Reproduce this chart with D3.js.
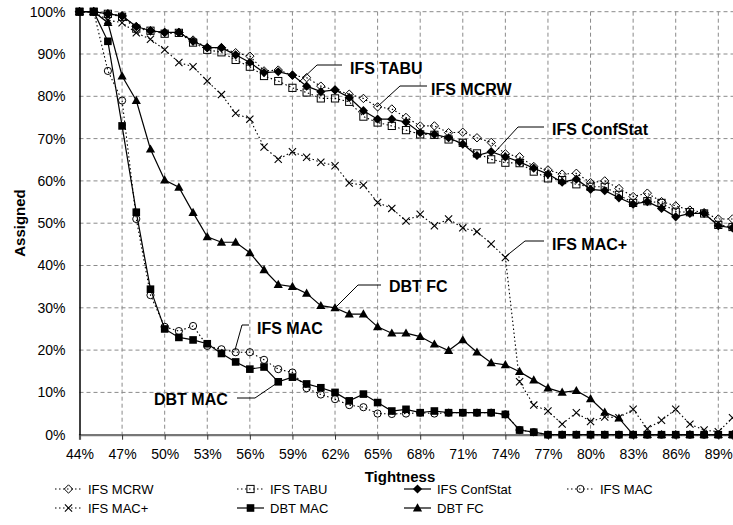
<!DOCTYPE html>
<html>
<head>
<meta charset="utf-8">
<script src="https://cdn.jsdelivr.net/npm/d3@7"></script>
<style>
  html, body { margin: 0; padding: 0; background: #fff; }
  svg { display: block; font-family: "Liberation Sans", Arial, sans-serif; }
</style>
</head>
<body>
<svg id="chart" width="733" height="525"></svg>
<script>
// Tightness levels (%), one point per percent
const tightness = d3.range(44, 91);

const xTickLabels = [44, 47, 50, 53, 56, 59, 62, 65, 68, 71, 74, 77, 80, 83, 86, 89];
const yTickLabels = [0, 10, 20, 30, 40, 50, 60, 70, 80, 90, 100];

// Percentage of variables assigned, per algorithm
const ifsMcrw = [100, 100, 99.5, 99, 96.5, 95.5, 95.1, 95.1, 93.3, 91.5, 91.5, 90.3, 89.5, 86, 86.2, 85,
  84.4, 82.4, 81.5, 80.5, 79.5, 77.5, 77, 75, 73, 73, 71.4, 71.5, 70.2, 69.1, 66.4, 65.7, 63.4, 62.6,
  61.6, 61.8, 59.6, 60, 58.2, 56.3, 57.1, 55.1, 54.1, 53.1, 52.5, 51, 51];
const ifsTabu = [100, 100, 99.5, 98.8, 96, 95.5, 94.8, 95, 92.7, 91, 90.4, 88.6, 87, 84.8, 83.6, 82,
  80.9, 79.5, 79.5, 78.7, 75.2, 73.8, 73, 72, 71, 70.9, 69.8, 69, 66.5, 65.1, 64.3, 64.2, 62.2, 60.6,
  60.2, 59.2, 58.6, 58.6, 56.7, 54.8, 55.2, 54.8, 52.7, 52.6, 52.3, 49.6, 49.1];
const ifsConfStat = [100, 100, 99.5, 99, 96.5, 95.5, 95.1, 95.1, 93, 91.5, 91.5, 89.8, 88, 85.6, 85.8, 85,
  82.4, 81.1, 81.5, 79.7, 76.6, 74.6, 74.6, 73.9, 71.4, 71, 70.2, 68.7, 66, 66.9, 65.7, 64.5, 63, 61.6,
  59.7, 60.4, 58, 57.7, 56, 54.5, 55.1, 53.5, 51.5, 52.3, 52.3, 49.4, 48.9];
const ifsMac = [100, 100, 86, 79, 51, 33, 25.5, 24.5, 25.7, 21, 20.2, 19.5, 19.5, 17.7, 15.5, 14.7,
  11, 9.5, 8.4, 7, 6.5, 5, 4.9, 5, 5.2, 5, 5.2, 5.2, 5.2, 5.2, 4.8, 1.1, 0.6, 0, 0,
  0, 0, 0, 0, 0, 0, 0, 0, 0, 0, 0, 0];
const ifsMacPlus = [100, 100, 98, 97.4, 95, 93.5, 91, 88, 87, 83.6, 80.4, 76, 74.6, 68, 65.1, 66.9,
  65.6, 64.4, 63.6, 59.5, 59, 54.9, 53.5, 50.5, 52.1, 49.4, 51, 48.9, 48, 45.1, 41.9, 12.5, 7, 5.6,
  2.5, 5.2, 3.1, 4.2, 4, 6, 1.4, 3.4, 6, 2.5, 1.1, 0.7, 4];
const dbtMac = [100, 100, 93, 73, 52.6, 34.4, 25, 23, 22.4, 21.5, 19.2, 17.2, 15.5, 16, 12.5, 13.6,
  12, 11.1, 10, 8, 9.6, 7.6, 5.6, 6, 5.2, 5.6, 5.2, 5.2, 5.2, 5.2, 4.8, 1.1, 0.6, 0, 0,
  0, 0, 0, 0, 0, 0, 0, 0, 0, 0, 0, 0];
const dbtFc = [100, 100, 97.4, 84.8, 79, 67.5, 60.2, 58.5, 52.5, 46.8, 45.5, 45.5, 43, 39, 35.5, 35,
  33.4, 30.5, 30, 28.5, 28.5, 25.5, 24, 24, 23.2, 21.4, 19.9, 22.4, 19.5, 17, 16.5, 14.9, 12.9, 11,
  10, 10.4, 8.5, 5.3, 3.9, 0, 0, 0, 0, 0, 0, 0, 0];

const series = [
  { name: "IFS MCRW",     values: ifsMcrw,     dashed: true,  marker: "diamondOpen" },
  { name: "IFS TABU",     values: ifsTabu,     dashed: true,  marker: "squareOpen" },
  { name: "IFS ConfStat", values: ifsConfStat, dashed: false, marker: "diamond" },
  { name: "IFS MAC",      values: ifsMac,      dashed: true,  marker: "circleOpen" },
  { name: "IFS MAC+",     values: ifsMacPlus,  dashed: true,  marker: "cross" },
  { name: "DBT MAC",      values: dbtMac,      dashed: false, marker: "square" },
  { name: "DBT FC",       values: dbtFc,       dashed: false, marker: "triangle" }
];

const svg = d3.select("#chart");
const plotLeft = 79.5, plotRight = 732.5, plotTop = 11.7, plotBottom = 434.7;

const x = d3.scaleLinear().domain([44, 90]).range([plotLeft, plotRight]);
const y = d3.scaleLinear().domain([0, 100]).range([plotBottom, plotTop]);

// Dashed gridlines
const grid = svg.append("g");
grid.selectAll("line.h").data(yTickLabels.filter(v => v > 0)).join("line")
  .attr("x1", plotLeft).attr("x2", 733).attr("y1", d => y(d)).attr("y2", d => y(d))
  .attr("stroke", "#8a8a8a").attr("stroke-width", 1).attr("stroke-dasharray", "4,3");
grid.selectAll("line.v").data(xTickLabels.filter(v => v > 44)).join("line")
  .attr("x1", d => x(d)).attr("x2", d => x(d)).attr("y1", plotTop).attr("y2", plotBottom)
  .attr("stroke", "#8a8a8a").attr("stroke-width", 1).attr("stroke-dasharray", "4,3");

// Axes
const xAxis = d3.axisBottom(x).tickValues(xTickLabels).tickFormat(d => d + "%").tickSize(5).tickPadding(9);
const gx = svg.append("g").attr("transform", `translate(0,${plotBottom})`).call(xAxis);
gx.select(".domain").attr("stroke", "#777").attr("stroke-width", 2.2);
gx.selectAll(".tick line").attr("stroke", "#333");
gx.selectAll("text").attr("font-size", 14).attr("fill", "#000")
  .attr("font-family", "Liberation Sans, Arial, sans-serif");

const yAxis = d3.axisLeft(y).tickValues(yTickLabels).tickFormat(d => d + "%").tickSize(0).tickPadding(14);
const gy = svg.append("g").attr("transform", `translate(${plotLeft},0)`).call(yAxis);
gy.select(".domain").attr("stroke", "#000").attr("stroke-width", 1.5);
gy.selectAll("text").attr("font-size", 14).attr("fill", "#000")
  .attr("font-family", "Liberation Sans, Arial, sans-serif");

// Axis titles
svg.append("text").attr("x", 400).attr("y", 482).attr("text-anchor", "middle")
  .attr("font-size", 15).attr("font-weight", "bold").text("Tightness");
svg.append("text").attr("transform", "translate(25,223) rotate(-90)").attr("text-anchor", "middle")
  .attr("font-size", 15).attr("font-weight", "bold").text("Assigned");

// Marker shapes
function drawMarker(g, type, cx, cy) {
  switch (type) {
    case "diamondOpen":
      g.append("path").attr("d", `M${cx},${cy - 4.2}L${cx + 4.2},${cy}L${cx},${cy + 4.2}L${cx - 4.2},${cy}Z`)
        .attr("fill", "none").attr("stroke", "#000").attr("stroke-width", 1);
      break;
    case "squareOpen":
      g.append("rect").attr("x", cx - 3.6).attr("y", cy - 3.6).attr("width", 7.2).attr("height", 7.2)
        .attr("fill", "none").attr("stroke", "#000").attr("stroke-width", 1);
      break;
    case "diamond":
      g.append("path").attr("d", `M${cx},${cy - 4.6}L${cx + 4.6},${cy}L${cx},${cy + 4.6}L${cx - 4.6},${cy}Z`)
        .attr("fill", "#000");
      break;
    case "circleOpen":
      g.append("circle").attr("cx", cx).attr("cy", cy).attr("r", 3.6)
        .attr("fill", "none").attr("stroke", "#000").attr("stroke-width", 1);
      break;
    case "cross":
      g.append("path").attr("d", `M${cx - 3.6},${cy - 3.6}L${cx + 3.6},${cy + 3.6}M${cx - 3.6},${cy + 3.6}L${cx + 3.6},${cy - 3.6}`)
        .attr("stroke", "#000").attr("stroke-width", 1.1);
      break;
    case "square":
      g.append("rect").attr("x", cx - 3.8).attr("y", cy - 3.8).attr("width", 7.6).attr("height", 7.6)
        .attr("fill", "#000");
      break;
    case "triangle":
      g.append("path").attr("d", `M${cx},${cy - 4.8}L${cx + 4.6},${cy + 3.4}L${cx - 4.6},${cy + 3.4}Z`)
        .attr("fill", "#000");
      break;
  }
}

const line = d3.line().x((d, i) => x(tightness[i])).y(d => y(d));

const plot = svg.append("g");
series.forEach(s => {
  const g = plot.append("g");
  g.append("path").attr("d", line(s.values)).attr("fill", "none").attr("stroke", "#000")
    .attr("stroke-width", s.dashed ? 1.1 : 1.2)
    .attr("stroke-dasharray", s.dashed ? "1.5,2.5" : null);
  s.values.forEach((v, i) => drawMarker(g, s.marker, x(tightness[i]), y(v)));
});

// Callout labels with leader lines
const callouts = [
  { text: "IFS TABU",     tx: 350, ty: 74,  pts: [[342, 65], [317, 65], [299, 82]] },
  { text: "IFS MCRW",     tx: 431, ty: 95,  pts: [[427, 86], [400, 86], [377, 107]] },
  { text: "IFS ConfStat", tx: 552, ty: 135, pts: [[544, 127], [518, 127], [495, 152]] },
  { text: "IFS MAC+",     tx: 552, ty: 250, pts: [[544, 241], [525, 241], [505, 257]] },
  { text: "DBT FC",       tx: 389, ty: 292, pts: [[381, 285], [358, 285], [336, 307]] },
  { text: "IFS MAC",      tx: 257, ty: 334, pts: [[249, 325], [242, 325], [235, 350]] },
  { text: "DBT MAC",      tx: 154, ty: 405, pts: [[237, 398], [255, 398], [277, 383]] }
];
const ann = svg.append("g");
callouts.forEach(c => {
  ann.append("path").attr("d", d3.line()(c.pts)).attr("fill", "none").attr("stroke", "#000").attr("stroke-width", 1);
  ann.append("text").attr("x", c.tx).attr("y", c.ty).attr("font-size", 16).attr("font-weight", "bold").text(c.text);
});

// Legend: two rows of four entries
const legendTextX = [88, 270, 437, 600];
const legendRows = [489, 508];
const legend = svg.append("g");
series.forEach((s, i) => {
  const tx = legendTextX[i % 4], ly = legendRows[Math.floor(i / 4)];
  const lx = tx - 33;
  const g = legend.append("g");
  g.append("line").attr("x1", lx).attr("x2", lx + 27).attr("y1", ly).attr("y2", ly)
    .attr("stroke", "#000").attr("stroke-width", s.dashed ? 1.1 : 1.2)
    .attr("stroke-dasharray", s.dashed ? "1.5,2.5" : null);
  drawMarker(g, s.marker, lx + 13.5, ly);
  g.append("text").attr("x", tx).attr("y", ly + 5).attr("font-size", 13).text(s.name);
});
</script>
</body>
</html>
